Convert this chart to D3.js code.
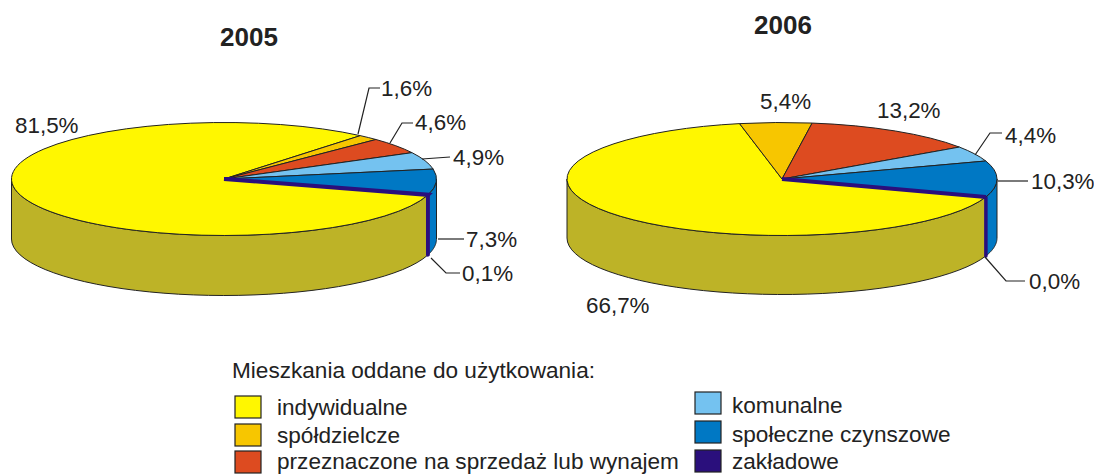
<!DOCTYPE html>
<html>
<head>
<meta charset="utf-8">
<script src="https://cdn.jsdelivr.net/npm/d3@7"></script>
<style>
  html, body { margin: 0; padding: 0; background: #fff; }
  svg { display: block; }
  text { font-family: "Liberation Sans", Arial, sans-serif; fill: #222; }
</style>
</head>
<body>
<svg width="1094" height="475"></svg>
<script>
const categories = ['indywidualne', 'spółdzielcze', 'przeznaczone na sprzedaż lub wynajem', 'komunalne', 'społeczne czynszowe', 'zakładowe'];
const values2005 = [81.5, 1.6, 4.6, 4.9, 7.3, 0.1];
const values2006 = [66.7, 5.4, 13.2, 4.4, 10.3, 0.0];
const legendTitle = 'Mieszkania oddane do użytkowania:';

const color = d3.scaleOrdinal()
    .domain(categories)
    .range(['#fff700', '#f7c600', '#dd4b20', '#74c2f0', '#0078c4', '#2a0f7c']);
const wallColor = d3.scaleOrdinal()
    .domain(categories)
    .range(['#bdb327', '#b89500', '#a53818', '#5592b4', '#0078c4', '#2a0f7c']);

const fmt = v => v.toFixed(1).replace('.', ',') + '%';

const svg = d3.select('svg');

// layout of the two pies, labels in the same order as the categories
const pies = [
    {
        title: '2005', titleX: 249, titleY: 37, values: values2005,
        cx: 224, cy: 179, rx: 212.5, ry: 56.5, depth: 60, start: 106.5,
        labels: [
            { x: 15, y: 125, line: null },
            { x: 381, y: 88, line: [[358, 134], [369, 88], [380, 88]] },
            { x: 415, y: 122, line: [[390, 143], [402, 123], [413, 123]] },
            { x: 453, y: 157, line: [[422, 159], [450, 157]] },
            { x: 466, y: 239, line: [[438, 239], [464, 239]] },
            { x: 462, y: 273, line: [[431, 258], [446, 273], [460, 273]] }
        ]
    },
    {
        title: '2006', titleX: 783, titleY: 25, values: values2006,
        cx: 782, cy: 179, rx: 215, ry: 56.5, depth: 59, start: 108.5,
        labels: [
            { x: 586, y: 305, line: null },
            { x: 760, y: 101, line: null },
            { x: 877, y: 110, line: null },
            { x: 1005, y: 135, line: [[975, 155], [990, 133], [1002, 133]] },
            { x: 1031, y: 181, line: [[998, 181], [1028, 181]] },
            { x: 1029, y: 281, line: [[985, 257], [1006, 281], [1025, 281]] }
        ]
    }
];

const leader = d3.line();

pies.forEach(p => {
    const g = svg.append('g');

    const pie = d3.pie()
        .sort(null)
        .value((d, i) => p.values[i])
        .startAngle(p.start * Math.PI / 180)
        .endAngle((p.start + 360) * Math.PI / 180);
    const slices = pie(categories);

    // side wall: only the part of each slice facing the viewer (90 to 270 deg)
    const rim = a => [p.cx + p.rx * Math.sin(a), p.cy - p.ry * Math.cos(a)];
    const wallPath = (a0, a1) => {
        const steps = d3.range(0, 41).map(i => rim(a0 + (a1 - a0) * i / 40));
        const low = steps.slice().reverse().map(q => [q[0], q[1] + p.depth]);
        return d3.line()(steps.concat(low)) + 'Z';
    };

    slices.forEach(s => {
        let a0 = s.startAngle, a1 = s.endAngle;
        if (a0 >= 2 * Math.PI) { a0 -= 2 * Math.PI; a1 -= 2 * Math.PI; }
        const lo = Math.max(a0, Math.PI / 2), hi = Math.min(a1, 3 * Math.PI / 2);
        if (hi < lo) return;
        const isThin = s.data === 'zakładowe';
        g.append('path')
            .attr('d', wallPath(lo, hi))
            .attr('fill', wallColor(s.data))
            .attr('stroke', isThin ? color(s.data) : '#222')
            .attr('stroke-width', isThin ? 3.5 : 1)
            .attr('stroke-linejoin', 'round');
    });

    // top of the pie: a flat d3 pie squashed into an ellipse
    const arc = d3.arc().innerRadius(0).outerRadius(p.rx);
    const top = g.append('g')
        .attr('transform', `translate(${p.cx},${p.cy}) scale(1,${p.ry / p.rx})`);
    top.selectAll('path')
        .data(slices)
        .join('path')
        .attr('d', arc)
        .attr('fill', d => color(d.data))
        .attr('stroke', d => d.data === 'zakładowe' ? color(d.data) : '#222')
        .attr('stroke-width', d => d.data === 'zakładowe' ? 4 : 1)
        .attr('stroke-linejoin', 'miter')
        .attr('vector-effect', 'non-scaling-stroke');

    g.append('text')
        .attr('x', p.titleX)
        .attr('y', p.titleY)
        .attr('dy', '0.35em')
        .attr('text-anchor', 'middle')
        .attr('font-weight', 'bold')
        .attr('font-size', 26)
        .text(p.title);

    p.labels.forEach((l, i) => {
        if (l.line) {
            g.append('path')
                .attr('d', leader(l.line))
                .attr('fill', 'none')
                .attr('stroke', '#222')
                .attr('stroke-width', 1.2);
        }
        g.append('text')
            .attr('x', l.x)
            .attr('y', l.y)
            .attr('dy', '0.35em')
            .attr('font-size', 22.4)
            .text(fmt(p.values[i]));
    });
});

// legend
const legend = svg.append('g');
legend.append('text')
    .attr('x', 232).attr('y', 370).attr('dy', '0.35em')
    .attr('font-size', 22.6)
    .text(legendTitle);

const legendPos = [
    { x: 235, y: 396, tx: 277, ty: 407 },
    { x: 235, y: 424, tx: 277, ty: 435 },
    { x: 235, y: 451, tx: 277, ty: 461 },
    { x: 695, y: 392, tx: 732, ty: 405 },
    { x: 695, y: 421, tx: 732, ty: 434 },
    { x: 695, y: 450, tx: 732, ty: 461 }
];

categories.forEach((c, i) => {
    const pos = legendPos[i];
    legend.append('rect')
        .attr('x', pos.x).attr('y', pos.y)
        .attr('width', 26).attr('height', 22)
        .attr('fill', color(c))
        .attr('stroke', '#222')
        .attr('stroke-width', 1.2);
    legend.append('text')
        .attr('x', pos.tx).attr('y', pos.ty).attr('dy', '0.35em')
        .attr('font-size', 22.6)
        .text(c);
});
</script>
</body>
</html>
